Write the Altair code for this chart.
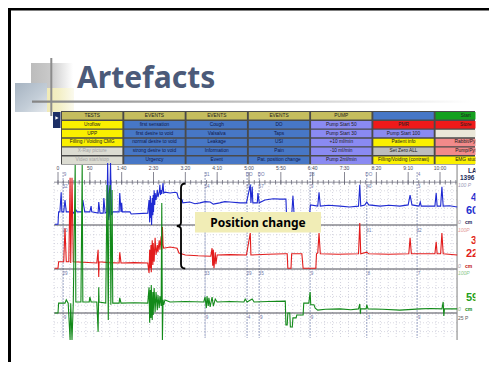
import altair as alt
import numpy as np
import pandas as pd

# ---------------- data ----------------
TITLE = "Artefacts"
NOTE = "Position change"

table_text = [
    ["TESTS", "EVENTS", "EVENTS", "EVENTS", "PUMP", "", "Start"],
    ["Uroflow", "first sensation", "Cough", "DO", "Pump Start 50", "PMR", "Store"],
    ["UPP", "first desire to void", "Valsalva", "Taps", "Pump Start 30", "Pump Start 100", ""],
    ["Filling / Voiding CMG", "normal desire to void", "Leakage", "USI", "+10 ml/min", "Patient info", "Rabbit/Pyr"],
    ["X-Ray picture", "strong desire to void", "Information", "Pain", "-10 ml/min", "Set Zero ALL", "Pump/Pyr"],
    ["Video start/stop", "Urgency", "Event", "Pat. position change", "Pump 2ml/min", "Filling/Voiding (contrast)", "EMG stud"],
]

time_ticks = [0, 50, 100, 150, 200, 250, 300, 350, 400, 450, 500, 550, 600]
time_labels = ["0", "50", "1:40", "2:30", "3:20", "4:10", "5:00", "5:50", "6:40", "7:30", "8:20", "9:10", "10:00"]

event_times = [8, 231, 297, 316, 396, 485, 564]
event_ruler = ["9", "31", "DO", "DO", "28", "DO", "4"]
event_blue = ["32", "54", "62", "67", "9", "40", "3"]
event_red = ["20", "", "", "", "", "31", "32"]
event_green = ["29", "33", "29", "35", "9", "8", "7"]
event_low = ["9", "9", "4", "9", "9", "3", "9"]

# seconds / cmH2O
blue_t = [-5, 0, 1, 3, 5, 6, 9, 11, 13, 22, 24, 28, 30, 38, 39, 42, 50, 52, 53, 63, 64, 66, 71, 72, 74,
          77, 78, 79.5, 81, 82.5, 84, 86, 96, 97, 99, 100, 101, 113, 115, 141, 143, 144, 145, 146, 146.5,
          147, 148, 149, 149.5, 150, 151, 152, 152.5, 154, 156, 157, 159, 160, 161, 162, 163, 165, 166,
          168, 176, 184, 187, 189, 195, 196, 207, 215, 223, 231, 239, 244, 254, 262, 270, 286, 296, 302,
          303, 305, 306, 313, 314, 316, 325, 338, 349, 358, 359, 367, 369, 371, 395, 396.5, 408, 410, 412,
          425, 443, 458, 472, 474, 475.5, 482, 485, 488, 506, 520, 537, 550, 553, 556, 567, 569, 570.5,
          592, 594, 595.5, 601, 603, 605, 615, 627]
blue_p = [2, 2, 32, 32, 80, 32, 32, 61, 32, 32, 29, 37, 32, 32, 61, 32, 32, 46, 32, 29, 56, 29, 29, 66, 29,
          32, 151, 12, 32, 151, 24, 32, 32, 78, 32, 54, 32, 32, 27, 29, 61, 7, 71, 17, 54,
          0, 66, 24, 73, 32, 85, 49, 78, 61, 85, 68, 80, 98, 73, 85, 76, 102, 78,
          80, 78, 80, 78, 66, 61, 54, 56, 52, 54, 57, 56, 51, 54, 57, 56, 54, 54, 98,
          54, 93, 54, 54, 78, 54, 61, 64, 63, 63, 22, 22, 71, 22, 22, 49, 46, 80, 46,
          48, 46, 44, 46, 98, 46, 49, 56, 49, 46, 48, 46, 49, 73, 49, 46, 56, 46,
          46, 78, 46, 46, 93, 46, 47, 44]

red_t = [-5, 0, 1, 9, 11, 13, 17, 19, 20, 22, 24, 40, 61, 63, 64, 64.5, 80, 96, 97, 99, 120, 141, 143, 144,
         145, 146, 146.5, 148, 149, 149.5, 151, 152.5, 154, 156, 157, 159, 160, 162, 163, 164, 165, 166,
         176, 187, 190, 200, 220, 240, 242, 243, 244, 245, 247, 248, 250, 270, 296, 302, 303, 330, 357,
         360, 361, 366, 367, 383, 385, 405, 406, 408, 410, 412, 440, 472, 474, 475.5, 485, 488, 520, 551,
         553, 555, 592, 594, 595.5, 601, 603, 605, 627]
red_p = [2, 2, 18, 18, 102, 18, 18, 228, 15, 228, 18, 17, 15, 48, -20, 18, 16, 15, 42, 15, 16, 15, -10, 48,
         2, 60, -8, 72, 10, 65, 18, 78, 35, 60, 42, 72, 48, 82, 48, 105, 60, 52,
         55, 52, 40, 35, 33, 32, 52, 8, 48, 2, 42, 12, 35, 36, 35, 90, 35, 37, 38,
         38, 2, 2, 38, 38, 2, 2, 38, 40, 90, 38, 37, 38, 115, 38, 42, 38, 37, 38,
         78, 38, 38, 68, 38, 38, 90, 38, 35]

green_t = [-5, 0, 1, 11, 13, 16, 19, 20, 22, 24, 27, 28, 36, 38, 39, 49, 50, 52, 61, 63, 64, 64.5, 75, 77,
           79, 80, 82, 83, 85, 86, 96, 97, 99, 120, 141, 143, 144, 145, 146, 146.5, 148, 149, 149.5, 151,
           152.5, 154, 156, 157, 159, 160, 162, 163, 164, 165, 166, 168, 176, 200, 229, 231, 233, 234, 236,
           237, 239, 242, 244, 247, 250, 270, 292, 294, 297, 305, 308, 330, 357, 358, 360, 361, 364, 365,
           368, 369, 374, 375, 385, 386, 394, 396, 397, 402, 404, 408, 420, 443, 460, 472, 474, 475, 475.5,
           484, 485, 487, 510, 537, 569, 585, 603, 605, 606, 607, 627]
green_p = [0, 0, 24, 24, 32, 24, -66, 24, -66, 24, 361, 27, 27, 361, 27, 27, 39, 27, 27, -46, 63, 27, 24, 312,
           -17, 290, 312, 20, 300, 24, 24, 37, 24, 25, 24, 63, -24, 56, -12, 68, -17, 51, -5, 61,
           2, 51, 7, 44, 12, 41, 17, 268, -66, 32, 20, 32, 27, 28, 27, 39, 12, 41, 17,
           37, 15, 39, 17, 34, 27, 28, 27, 34, 27, 34, 27, 28, 29, -29, -29, 0, 0, -34,
           -34, -12, -12, -5, -5, 24, 24, 51, 20, 20, 12, 7, 9, 10, 8, 10, 22, -2, 10,
           10, 20, 10, 9, 7, 10, 11, 10, 27, -7, 10, 10]

right_text = ["LAE", "1396", "100 P", "4", "60", "0", "cm", "100P", "3", "22", "0", "cm",
              "100P", "59", "0", "cm", "25 P"]

# ---------------- styles / layout ----------------
OFF = 8
W, H = 481, 354
one = pd.DataFrame({"k": [0]})


def V(v):
    return alt.value(v - OFF)


def box(x1, y1, x2, y2, **kw):
    return alt.Chart(one).mark_rect(**kw).encode(x=V(x1), x2=V(x2), y=V(y1), y2=V(y2))


def label(s, x, y, **kw):
    return alt.Chart(one).mark_text(text=s, **kw).encode(x=V(x), y=V(y))


def grad(stops, x2=1, y2=0):
    return alt.LinearGradient(gradient="linear",
                              stops=[alt.GradientStop(color=c, offset=o) for o, c in stops],
                              x1=0, y1=0, x2=x2, y2=y2)


XT = alt.Scale(domain=[0, 600], range=[58 - OFF, 440 - OFF], nice=False, zero=False)
PY = alt.Scale(domain=[OFF, OFF + H], range=[0, H], nice=False, zero=False)


def yscale(zero_px, hundred_px):
    return alt.Scale(domain=[0, 100], range=[zero_px - OFF, hundred_px - OFF], nice=False, zero=False)


YB = yscale(225, 184)
YR = yscale(269, 229)
YG = yscale(313, 272)

HK, BL, YE, LV, RD, GN, GR, SG, BE, PK = ("#c5bd5e", "#4777c6", "#faf000", "#8a8af2", "#ee1a1a",
                                          "#14a01e", "#dcdcd2", "#bdbdbd", "#ebe7d9", "#f28a8a")
table_fill = [
    [HK, HK, HK, HK, HK, BL, GN],
    [YE, BL, BL, BL, LV, RD, RD],
    [YE, BL, BL, BL, LV, LV, BE],
    [YE, BL, BL, BL, LV, YE, PK],
    [GR, BL, BL, BL, LV, SG, PK],
    [GR, BL, BL, BL, LV, YE, YE],
]

layers = []

# slide frame
layers.append(box(8, 8, 8 + W, 10.5, color="#000000"))
layers.append(box(8, 8, 11, 8 + H, color="#000000"))

# title decoration
layers.append(box(31, 63, 73, 100, fill=grad([(0, "#bcbcbc"), (0.45, "#c9c9c9"), (1, "#ffffff")])))
layers.append(box(37, 88, 74, 112, fill=grad([(0, "#ede6a8"), (0.6, "#f3efc6"), (1, "#fbfaee")])))
layers.append(box(15, 83, 47, 112, fill=grad([(0, "#a6b3c1"), (0.6, "#c4ced8"), (1, "#e6eaee")], x2=1, y2=1)))
layers.append(box(32, 100.5, 472, 102.8, fill=grad([(0, "#858585"), (0.5, "#c4c4c4"), (1, "#ffffff")])))
layers.append(box(50.3, 58, 52.3, 116, color="#8c8c8c"))

# title
layers.append(label(TITLE, 77, 88, font="Noto Sans", fontSize=30, fontWeight="bold",
                    color="#4b5a79", align="left", baseline="alphabetic"))

# button table
layers.append(box(61, 111, 475, 164.5, color="#4a4a4a"))
layers.append(box(53, 112, 60.5, 128, color="#1d2f66"))
layers.append(alt.Chart(one).mark_point(shape="triangle-right", size=14, filled=True, color="#ffffff",
                                        opacity=1).encode(x=V(57), y=V(118)))
recs = []
for r, row in enumerate(table_text):
    for c, txt in enumerate(row):
        fill = table_fill[r][c]
        tc = "#a4a4a4" if fill == GR else ("#10184a" if fill == BL else "#202020")
        recs.append({"r": r, "c": c, "label": txt, "fill": fill, "tc": tc})
tdf = pd.DataFrame(recs)
XC = alt.Scale(type="band", domain=list(range(7)), range=[62 - OFF, 496 - OFF], paddingInner=0.03,
               paddingOuter=0)
YC = alt.Scale(type="band", domain=list(range(6)), range=[112 - OFF, 164 - OFF], paddingInner=0.16,
               paddingOuter=0)
layers.append(alt.Chart(tdf).mark_rect().encode(
    x=alt.X("c:O", scale=XC, axis=None), y=alt.Y("r:O", scale=YC, axis=None),
    fill=alt.Fill("fill:N", scale=None)))
layers.append(alt.Chart(tdf).mark_text(font="Liberation Sans", fontSize=4.8).encode(
    x=alt.X("c:O", scale=XC, axis=None), y=alt.Y("r:O", scale=YC, axis=None),
    text="label:N", color=alt.Color("tc:N", scale=None)))

# grid
gv = pd.DataFrame({"t": np.arange(-6.25, 627, 12.5)})
layers.append(alt.Chart(gv).mark_rule(color="#c2c2d2", strokeWidth=0.7, strokeDash=[1, 2]).encode(
    x=alt.X("t:Q", scale=XT, axis=None), y=V(183), y2=V(338)))
gh = pd.DataFrame({"y": 182 + 8.8 * np.arange(1, 18)})
layers.append(alt.Chart(gh).mark_rule(color="#c8c8d6", strokeWidth=0.7, strokeDash=[1, 2]).encode(
    y=alt.Y("y:Q", scale=PY, axis=None), x=V(54), x2=V(457)))

# event markers
edf = pd.DataFrame({"t": event_times, "a": event_ruler, "b": event_blue, "r": event_red,
                    "g": event_green, "l": event_low})
layers.append(alt.Chart(edf).mark_rule(color="#8d98bd", strokeWidth=0.9, strokeDash=[2, 1]).encode(
    x=alt.X("t:Q", scale=XT, axis=None), y=V(172), y2=V(338)))
for col, yy in (("a", 175), ("b", 186.5), ("r", 230.5), ("g", 274), ("l", 317.5)):
    layers.append(alt.Chart(edf).mark_text(fontSize=4.6, color="#6f78a8", font="Liberation Sans",
                                           dx=2).encode(
        x=alt.X("t:Q", scale=XT, axis=None), y=V(yy), text=f"{col}:N"))

# ruler
layers.append(box(54, 181.8, 457, 182.6, color="#6a6a78"))
rt = pd.DataFrame({"t": np.arange(0, 627, 50 / 6)})
layers.append(alt.Chart(rt).mark_rule(color="#6a6a78", strokeWidth=0.8).encode(
    x=alt.X("t:Q", scale=XT, axis=None), y=V(180), y2=V(184.5)))
tl = pd.DataFrame({"t": time_ticks, "lab": time_labels})
layers.append(alt.Chart(tl).mark_rule(color="#6a6a78", strokeWidth=0.8).encode(
    x=alt.X("t:Q", scale=XT, axis=None), y=V(172), y2=V(184.5)))
layers.append(alt.Chart(tl).mark_text(fontSize=5, color="#4a4a5a", font="Liberation Sans").encode(
    x=alt.X("t:Q", scale=XT, axis=None), y=V(168), text="lab:N"))

# zero lines and right boundary
for yy in (225, 269, 313):
    layers.append(box(54, yy - 0.5, 457, yy + 0.6, color="#4e4e58"))
layers.append(box(456.5, 164.5, 457.6, 340, color="#8a8a8a"))


# traces
def trace(ts, ps, ysc, color):
    df = pd.DataFrame({"t": ts, "p": ps, "i": np.arange(len(ts))})
    return alt.Chart(df).mark_line(color=color, strokeWidth=1.1).encode(
        x=alt.X("t:Q", scale=XT, axis=None), y=alt.Y("p:Q", scale=ysc, axis=None), order="i:Q")


layers.append(trace(blue_t, blue_p, YB, "#1f2ad2"))
layers.append(trace(red_t, red_p, YR, "#e21c1c"))
layers.append(trace(green_t, green_p, YG, "#138a1a"))

# right-hand value panel
right_layout = [
    (468, 171, 6.5, "bold", "#1a2a5a", "normal"),
    (460, 178, 6.5, "bold", "#1a2a5a", "normal"),
    (458, 185, 5, "normal", "#9a9ab8", "italic"),
    (471, 198, 10, "bold", "#2030d0", "normal"),
    (466, 211, 11, "bold", "#2030d0", "normal"),
    (458, 222, 5, "normal", "#9a9aa8", "italic"),
    (465, 222, 5, "bold", "#1a2050", "normal"),
    (458, 230, 5, "normal", "#e49a9a", "italic"),
    (471, 241, 10, "bold", "#e02020", "normal"),
    (466, 254, 11, "bold", "#e02020", "normal"),
    (458, 266, 5, "normal", "#9a9aa8", "italic"),
    (465, 266, 5, "bold", "#c01010", "normal"),
    (458, 273, 5, "normal", "#8cc88c", "italic"),
    (466, 298, 11, "bold", "#20a020", "normal"),
    (458, 309, 5, "normal", "#8cb88c", "italic"),
    (465, 309, 5, "bold", "#108a10", "normal"),
    (458, 318, 5, "normal", "#606060", "normal"),
]
for txt, (x, y, fs, fw, colr, fst) in zip(right_text, right_layout):
    layers.append(label(txt, x, y, fontSize=fs, fontWeight=fw, color=colr, fontStyle=fst,
                        font="Liberation Sans", align="left", baseline="middle"))

# screenshot is cut at the right
layers.append(box(475.5, 106, 8 + W, 345, color="#ffffff"))

# annotation
layers.append(box(195, 212, 321, 232.5, color="#f1edb6"))
layers.append(label(NOTE, 258, 222.5, font="Noto Sans", fontSize=12, fontWeight="bold",
                    color="#000000", align="center", baseline="middle"))
brace = "M0.1,-1 Q0,-1 0,-0.9 L0,-0.08 Q0,0 -0.1,0 Q0,0 0,0.08 L0,0.9 Q0,1 0.1,1"
layers.append(alt.Chart(one).mark_point(shape=brace, size=85 * 85, filled=False, color="#000000",
                                        strokeWidth=1.8, opacity=1).encode(x=V(181), y=V(226)))

chart = alt.layer(*layers).resolve_scale(x="independent", y="independent").properties(
    width=W, height=H, padding=0, autosize=alt.AutoSizeParams(type="none"),
    background="#ffffff").configure_view(stroke=None)

chart.save("out.html", embed_options={"renderer": "svg", "actions": False})
